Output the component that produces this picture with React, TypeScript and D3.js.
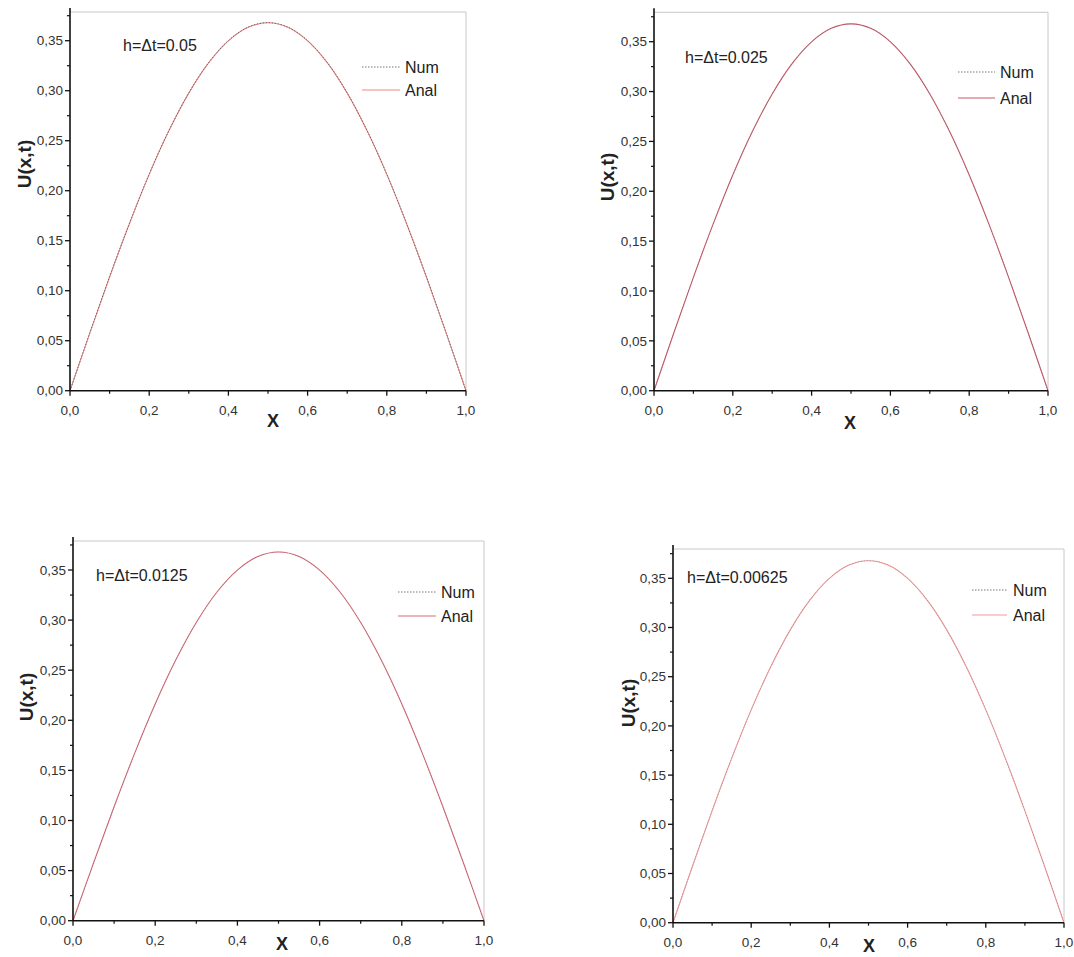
import React from 'react';
import * as d3 from 'd3';

const xValues = [0, 0.05, 0.1, 0.15, 0.2, 0.25, 0.3, 0.35, 0.4, 0.45, 0.5, 0.55, 0.6, 0.65, 0.7, 0.75, 0.8, 0.85, 0.9, 0.95, 1.0];
const analValues = [0, 0.0576, 0.1137, 0.167, 0.2163, 0.2601, 0.2976, 0.3278, 0.3499, 0.3634, 0.3679, 0.3634, 0.3499, 0.3278, 0.2976, 0.2601, 0.2163, 0.167, 0.1137, 0.0576, 0];
const numValues = [0, 0.0577, 0.1139, 0.1672, 0.2165, 0.2603, 0.2978, 0.328, 0.3501, 0.3636, 0.3681, 0.3636, 0.3501, 0.328, 0.2978, 0.2603, 0.2165, 0.1672, 0.1139, 0.0577, 0];

const hLabels = ['h=\u0394t=0.05', 'h=\u0394t=0.025', 'h=\u0394t=0.0125', 'h=\u0394t=0.00625'];
const legendLabels = ['Num', 'Anal'];
const yTickValues = [0, 0.05, 0.1, 0.15, 0.2, 0.25, 0.3, 0.35];
const yMinorValues = [0.025, 0.075, 0.125, 0.175, 0.225, 0.275, 0.325, 0.375];
const xTickValues = [0, 0.2, 0.4, 0.6, 0.8, 1.0];
const xMinorValues = [0.1, 0.3, 0.5, 0.7, 0.9];
const yTickLabels = ['0,00', '0,05', '0,10', '0,15', '0,20', '0,25', '0,30', '0,35'];
const xTickLabels = ['0,0', '0,2', '0,4', '0,6', '0,8', '1,0'];
const analColors = ['#f08a8a', '#c85a68', '#d86c78', '#f09a9a'];

const panels = [
  { left: 70, right: 466, top: 12, zero: 390.7, y35: 40.7, yt: [24, 164], xt: [273, 421], ann: [123, 51], leg: [362, 400, 405, 67, 90] },
  { left: 654, right: 1048, top: 12.3, zero: 390.7, y35: 41.7, yt: [607, 177], xt: [850, 423], ann: [685, 63], leg: [958, 995, 1000, 72, 98] },
  { left: 73, right: 484, top: 541, zero: 920.7, y35: 570, yt: [26, 697], xt: [282, 944], ann: [96, 581], leg: [398, 436, 441, 592, 616] },
  { left: 673, right: 1064, top: 549, zero: 922.7, y35: 578.3, yt: [628, 703], xt: [869, 946], ann: [687, 583], leg: [972, 1007, 1013, 590, 615] },
];

const FONT = 'Liberation Sans, Arial, sans-serif';

function Panel({ p, i }: { p: any; i: number }) {
  const x = d3.scaleLinear().domain([0, 1]).range([p.left, p.right]);
  const y = d3.scaleLinear().domain([0, 0.35]).range([p.zero, p.y35]);
  const topVal = y.invert(p.top);
  const line = d3
    .line<number>()
    .x((_, k) => x(xValues[k]))
    .y((v) => y(v))
    .curve(d3.curveCatmullRom.alpha(0.5));
  const anal = line(analValues) || '';
  const num = line(numValues) || '';
  const yMinor = yMinorValues.filter((v) => v <= topVal);
  return (
    <g>
      <line x1={x(0)} x2={x(1)} y1={y(topVal)} y2={y(topVal)} stroke="#c8c8c8" strokeWidth={1} />
      <line x1={x(1)} x2={x(1)} y1={y(topVal)} y2={y(0)} stroke="#c8c8c8" strokeWidth={1} />
      <path d={anal} fill="none" stroke={analColors[i]} strokeWidth={1.1} />
      <path d={num} fill="none" stroke="#555" strokeWidth={0.9} strokeDasharray="1.5,1.5" opacity={i === 0 ? 0.9 : 0.3} />
      <line x1={x(0)} x2={x(0)} y1={y(topVal) - 4} y2={y(0)} stroke="#111" strokeWidth={1.6} />
      <line x1={x(0)} x2={x(1)} y1={y(0)} y2={y(0)} stroke="#111" strokeWidth={1.6} />
      {yTickValues.map((v, k) => (
        <g key={'yt' + k}>
          <line x1={x(0) - 5} x2={x(0)} y1={y(v)} y2={y(v)} stroke="#111" strokeWidth={1.3} />
          <text x={x(0) - 7} y={y(v)} dy="0.35em" textAnchor="end" fontSize={13.5} fill="#333" fontFamily={FONT}>
            {yTickLabels[k]}
          </text>
        </g>
      ))}
      {yMinor.map((v, k) => (
        <line key={'ym' + k} x1={x(0) - 3} x2={x(0)} y1={y(v)} y2={y(v)} stroke="#111" strokeWidth={1.2} />
      ))}
      {xTickValues.map((v, k) => (
        <g key={'xt' + k}>
          <line x1={x(v)} x2={x(v)} y1={y(0)} y2={y(0) + 5} stroke="#111" strokeWidth={1.3} />
          <text x={x(v)} y={y(0) + 20} dy="0.35em" textAnchor="middle" fontSize={13.5} fill="#333" fontFamily={FONT}>
            {xTickLabels[k]}
          </text>
        </g>
      ))}
      {xMinorValues.map((v, k) => (
        <line key={'xm' + k} x1={x(v)} x2={x(v)} y1={y(0)} y2={y(0) + 3} stroke="#111" strokeWidth={1.2} />
      ))}
      <text
        x={p.yt[0]}
        y={p.yt[1]}
        transform={`rotate(-90 ${p.yt[0]} ${p.yt[1]})`}
        textAnchor="middle"
        dy="0.35em"
        fontSize={19}
        fontWeight="bold"
        fill="#222"
        fontFamily={FONT}
      >
        U(x,t)
      </text>
      <text x={p.xt[0]} y={p.xt[1]} dy="0.35em" textAnchor="middle" fontSize={18} fontWeight="bold" fill="#222" fontFamily={FONT}>
        X
      </text>
      <text x={p.ann[0]} y={p.ann[1]} fontSize={16} fill="#222" fontFamily={FONT}>
        {hLabels[i]}
      </text>
      <line x1={p.leg[0]} x2={p.leg[1]} y1={p.leg[3]} y2={p.leg[3]} stroke="#777" strokeWidth={1} strokeDasharray="1.5,1.5" />
      <text x={p.leg[2]} y={p.leg[3]} dy="0.35em" fontSize={16} fill="#222" fontFamily={FONT}>
        {legendLabels[0]}
      </text>
      <line x1={p.leg[0]} x2={p.leg[1]} y1={p.leg[4]} y2={p.leg[4]} stroke={analColors[i]} strokeWidth={1.2} />
      <text x={p.leg[2]} y={p.leg[4]} dy="0.35em" fontSize={16} fill="#222" fontFamily={FONT}>
        {legendLabels[1]}
      </text>
    </g>
  );
}

export default function App() {
  return (
    <svg
      width={1074}
      height={957}
      style={{ position: 'absolute', left: 0, top: 0, background: '#fff' }}
      xmlns="http://www.w3.org/2000/svg"
    >
      <rect x={0} y={0} width={1074} height={957} fill="#fff" />
      {panels.map((p, i) => (
        <Panel key={i} p={p} i={i} />
      ))}
    </svg>
  );
}
